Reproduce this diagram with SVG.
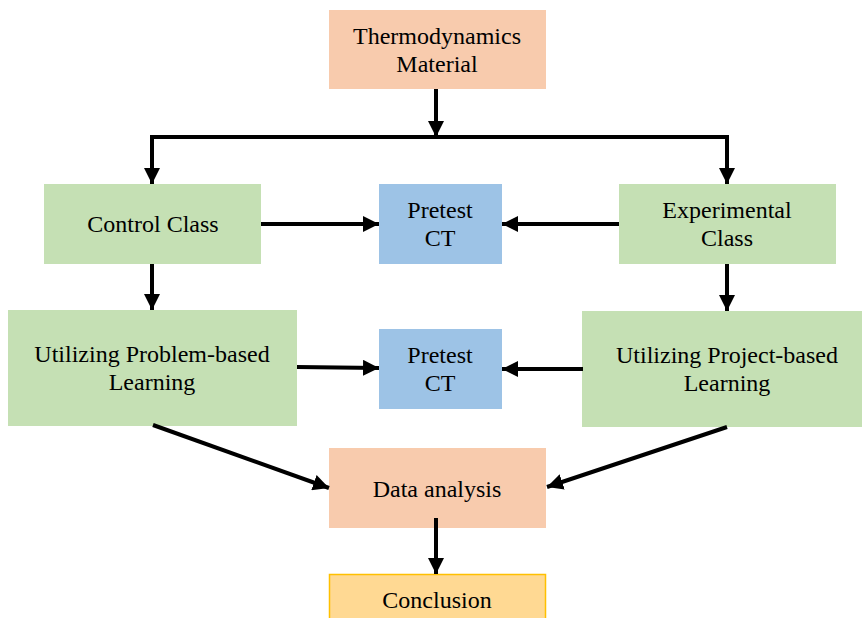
<svg xmlns="http://www.w3.org/2000/svg" width="862" height="618" viewBox="0 0 862 618">
<style>
  .orange { fill: #F8CBAD; }
  .green { fill: #C5E0B4; }
  .blue { fill: #9DC3E6; }
  .gold { fill: #FFD993; stroke: #FFC000; stroke-width: 1.5; }
  text { font-family: "Liberation Serif", "Times New Roman", serif; font-size: 24px; fill: #000; text-anchor: middle; }
  .conn { stroke: #000; stroke-width: 4; fill: none; }
  .arr { marker-end: url(#ah); }
</style>
<defs>
  <marker id="ah" markerUnits="userSpaceOnUse" markerWidth="16" markerHeight="16" refX="16" refY="8" orient="auto">
    <path d="M0,0 L16,8 L0,16 z" fill="#000"/>
  </marker>
</defs>
<rect width="862" height="618" fill="#fff"/>

<g id="thermo">
  <rect class="orange" x="329" y="10" width="217" height="79"/>
  <text x="437" y="44">Thermodynamics</text>
  <text x="437" y="72">Material</text>
</g>
<g id="control">
  <rect class="green" x="44" y="184" width="217" height="80"/>
  <text x="153" y="232">Control Class</text>
</g>
<g id="pretest1">
  <rect class="blue" x="379" y="184" width="123" height="80"/>
  <text x="440" y="218">Pretest</text>
  <text x="440" y="246">CT</text>
</g>
<g id="experimental">
  <rect class="green" x="619" y="184" width="217" height="80"/>
  <text x="727" y="218">Experimental</text>
  <text x="727" y="246">Class</text>
</g>
<g id="problem">
  <rect class="green" x="8" y="310" width="289" height="116"/>
  <text x="152" y="362">Utilizing Problem-based</text>
  <text x="152" y="390">Learning</text>
</g>
<g id="pretest2">
  <rect class="blue" x="379" y="329" width="123" height="80"/>
  <text x="440" y="363">Pretest</text>
  <text x="440" y="391">CT</text>
</g>
<g id="project">
  <rect class="green" x="582" y="311" width="282" height="116"/>
  <text x="727" y="363">Utilizing Project-based</text>
  <text x="727" y="391">Learning</text>
</g>
<g id="analysis">
  <rect class="orange" x="329" y="448" width="217" height="80"/>
  <text x="437" y="497">Data analysis</text>
</g>
<g id="conclusion">
  <rect class="gold" x="329.5" y="574.5" width="216" height="50"/>
  <text x="437" y="608">Conclusion</text>
</g>

<g id="connectors">
  <line class="conn arr" x1="436" y1="89" x2="436" y2="137"/>
  <line class="conn" x1="150" y1="137" x2="729" y2="137"/>
  <line class="conn arr" x1="152" y1="137" x2="152" y2="184"/>
  <line class="conn arr" x1="727" y1="137" x2="727" y2="184"/>
  <line class="conn arr" x1="261" y1="224" x2="379" y2="224"/>
  <line class="conn arr" x1="619" y1="224" x2="502" y2="224"/>
  <line class="conn arr" x1="152" y1="264" x2="152" y2="310"/>
  <line class="conn arr" x1="727" y1="264" x2="727" y2="311"/>
  <line class="conn arr" x1="297" y1="367" x2="379" y2="368"/>
  <line class="conn arr" x1="583" y1="369" x2="502" y2="369"/>
  <line class="conn arr" x1="153" y1="425" x2="329" y2="488"/>
  <line class="conn arr" x1="727" y1="427" x2="547" y2="487"/>
  <line class="conn arr" x1="436" y1="518" x2="436" y2="574"/>
</g>
</svg>
